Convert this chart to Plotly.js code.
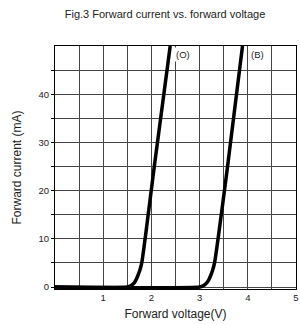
<!DOCTYPE html>
<html><head><meta charset="utf-8">
<script src="https://cdn.plot.ly/plotly-3.0.1.min.js"></script>
<style>html,body{margin:0;padding:0;background:#fff}#c{width:300px;height:325px}</style>
</head><body><div id="c"></div>
<script>
const voltageO = [0, 1.5, 1.58, 1.64, 1.68, 1.72, 1.76, 1.8, 2.06, 2.39];
const currentO = [0, 0, 0.3, 0.8, 1.5, 2.4, 3.5, 5, 25, 50];
const voltageB = [0, 3.0, 3.08, 3.14, 3.19, 3.23, 3.27, 3.31, 3.58, 3.89];
const currentB = [0, 0, 0.3, 0.8, 1.5, 2.4, 3.5, 5, 25, 50];
const curveLabels = ['(O)', '(B)'];
const labelX = [2.66, 4.2];
const labelY = [48.2, 48.2];
const xTicks = [1, 2, 3, 4, 5];
const yTicks = [0, 10, 20, 30, 40];

const lineStyle = {color: '#000', width: 3.5, shape: 'spline', smoothing: 0.6};
const data = [
  {x: voltageO, y: currentO, mode: 'lines', line: lineStyle, hoverinfo: 'none'},
  {x: voltageB, y: currentB, mode: 'lines', line: lineStyle, hoverinfo: 'none'}
];
const layout = {
  width: 300, height: 325,
  margin: {l: 55, r: 4, t: 46, b: 36},
  paper_bgcolor: '#fff', plot_bgcolor: '#fff',
  showlegend: false,
  font: {family: 'Liberation Sans, Arial, sans-serif', size: 9, color: '#222'},
  title: {text: 'Fig.3 Forward current vs. forward voltage', x: 0.55, xanchor: 'center', y: 0.955, yanchor: 'middle',
          font: {size: 11, color: '#222'}},
  xaxis: {
    range: [0, 5], tickvals: xTicks, ticktext: xTicks.map(String),
    showgrid: true, gridcolor: '#444', gridwidth: 1,
    minor: {dtick: 0.5, showgrid: true, gridcolor: '#444', gridwidth: 1},
    showline: true, linecolor: '#000', linewidth: 1, mirror: true,
    ticks: '', zeroline: false, fixedrange: true,
    title: {text: 'Forward voltage(V)', font: {size: 12, color: '#222'}, standoff: 7},
    tickfont: {size: 9.5, color: '#222'}
  },
  yaxis: {
    range: [-0.4, 50], tickvals: yTicks, ticktext: yTicks.map(String),
    showgrid: true, gridcolor: '#444', gridwidth: 1,
    minor: {tickvals: [5, 15, 25, 35, 45], showgrid: true, gridcolor: '#444', gridwidth: 1, ticks: 'outside', ticklen: 3, tickcolor: '#000'},
    showline: true, linecolor: '#000', linewidth: 1, mirror: true,
    ticks: 'outside', ticklen: 3, tickcolor: '#000', zeroline: false, fixedrange: true,
    title: {text: 'Forward current (mA)', font: {size: 12, color: '#222'}, standoff: 14},
    tickfont: {size: 9.5, color: '#222'}
  },
  annotations: curveLabels.map((t, i) => ({
    x: labelX[i], y: labelY[i], xref: 'x', yref: 'y', text: t, showarrow: false,
    font: {size: 9.5, color: '#222'}, bgcolor: '#fff'
  }))
};
Plotly.newPlot('c', data, layout, {displayModeBar: false, staticPlot: true});
</script></body></html>
